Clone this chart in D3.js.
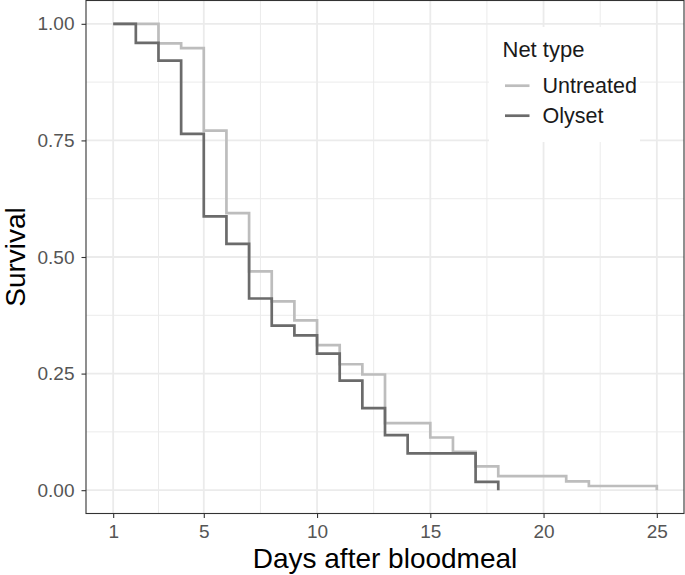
<!DOCTYPE html>
<html>
<head>
<meta charset="utf-8">
<script src="https://cdn.jsdelivr.net/npm/d3@7"></script>
<style>
  html, body { margin: 0; padding: 0; background: #fff; }
  svg { display: block; font-family: "Liberation Sans", Arial, Helvetica, sans-serif; }
</style>
</head>
<body>
<div id="chart"></div>
<script>
// ---------- Data ----------
const seriesNames = ['Untreated', 'Olyset'];
const untreatedDays = [1, 3, 4, 5, 6, 7, 8, 9, 10, 11, 12, 13, 15, 16, 17, 18, 21, 22, 25];
const untreatedSurv = [1.0, 0.958, 0.948, 0.771, 0.594, 0.469, 0.405, 0.364, 0.311, 0.270, 0.248, 0.144, 0.113, 0.082, 0.051, 0.030, 0.019, 0.009, 0];
const olysetDays = [1, 2, 3, 4, 5, 6, 7, 8, 9, 10, 11, 12, 13, 14, 17, 18];
const olysetSurv = [1.0, 0.959, 0.921, 0.764, 0.587, 0.528, 0.411, 0.353, 0.332, 0.293, 0.235, 0.176, 0.118, 0.079, 0.018, 0];

const xTicks = [1, 5, 10, 15, 20, 25];
const xMinor = [3, 7.5, 12.5, 17.5, 22.5];
const yTicks = [0, 0.25, 0.5, 0.75, 1];
const yMinor = [0.125, 0.375, 0.625, 0.875];

const colors = { Untreated: '#bdbdbd', Olyset: '#6b6b6b' };

// ---------- Layout ----------
const W = 685, H = 575;
const P = { l: 86, r: 684, t: 0.5, b: 513.5 };

const svg = d3.select('#chart').append('svg').attr('width', W).attr('height', H);

const x = d3.scaleLinear().domain([-0.2, 26.2]).range([P.l, P.r]);
const y = d3.scaleLinear().domain([-0.05, 1.05]).range([P.b, P.t]);

// grid (minor then major)
const grid = svg.append('g');
grid.selectAll('line.xmin').data(xMinor).join('line')
  .attr('x1', d => x(d)).attr('x2', d => x(d)).attr('y1', P.t).attr('y2', P.b)
  .attr('stroke', '#ebebeb').attr('stroke-width', 1);
grid.selectAll('line.ymin').data(yMinor).join('line')
  .attr('y1', d => y(d)).attr('y2', d => y(d)).attr('x1', P.l).attr('x2', P.r)
  .attr('stroke', '#ebebeb').attr('stroke-width', 1);
grid.selectAll('line.xmaj').data(xTicks).join('line')
  .attr('x1', d => x(d)).attr('x2', d => x(d)).attr('y1', P.t).attr('y2', P.b)
  .attr('stroke', '#ebebeb').attr('stroke-width', 1.8);
grid.selectAll('line.ymaj').data(yTicks).join('line')
  .attr('y1', d => y(d)).attr('y2', d => y(d)).attr('x1', P.l).attr('x2', P.r)
  .attr('stroke', '#ebebeb').attr('stroke-width', 1.8);

// ---------- Step curves ----------
const series = [
  { name: 'Untreated', pts: untreatedDays.map((d, i) => [d, untreatedSurv[i]]) },
  { name: 'Olyset', pts: olysetDays.map((d, i) => [d, olysetSurv[i]]) }
];
const line = d3.line().x(d => x(d[0])).y(d => y(d[1])).curve(d3.curveStepAfter);

svg.append('g').selectAll('path').data(series).join('path')
  .attr('d', d => line(d.pts))
  .attr('fill', 'none')
  .attr('stroke', d => colors[d.name])
  .attr('stroke-width', 2.7);

// ---------- Legend (inside panel, white background) ----------
const lg = svg.append('g');
lg.append('rect').attr('x', 489).attr('y', 27).attr('width', 151).attr('height', 115).attr('fill', '#fff');
lg.append('text').attr('x', 502.5).attr('y', 57).attr('font-size', 22).attr('fill', '#1a1a1a').text('Net type');
seriesNames.forEach((n, i) => {
  const cy = 85.7 + i * 30;
  lg.append('line').attr('x1', 505).attr('x2', 529.5).attr('y1', cy).attr('y2', cy)
    .attr('stroke', colors[n]).attr('stroke-width', 2.7);
  lg.append('text').attr('x', 542.5).attr('y', cy + 7.6).attr('font-size', 21.5).attr('fill', '#1a1a1a').text(n);
});

// ---------- Panel border ----------
svg.append('rect').attr('x', P.l).attr('y', P.t).attr('width', P.r - P.l).attr('height', P.b - P.t)
  .attr('fill', 'none').attr('stroke', '#333').attr('stroke-width', 1.1);

// ---------- Axes ----------
const xAxis = svg.append('g').attr('transform', `translate(0,${P.b})`)
  .call(d3.axisBottom(x).tickValues(xTicks).tickSize(4.5).tickPadding(7).tickFormat(d3.format('d')));
const yAxis = svg.append('g').attr('transform', `translate(${P.l},0)`)
  .call(d3.axisLeft(y).tickValues(yTicks).tickSize(4.5).tickPadding(7).tickFormat(d3.format('.2f')));
[xAxis, yAxis].forEach(a => {
  a.select('.domain').remove();
  a.selectAll('.tick line').attr('stroke', '#333').attr('stroke-width', 1.1);
  a.selectAll('.tick text').attr('fill', '#555').attr('font-size', 19)
    .attr('font-family', '"Liberation Sans", Arial, sans-serif');
});

// axis titles
svg.append('text').attr('x', (P.l + P.r) / 2).attr('y', 568).attr('text-anchor', 'middle')
  .attr('font-size', 28).attr('fill', '#000').text('Days after bloodmeal');
svg.append('text').attr('transform', `translate(24.5,${(P.t + P.b) / 2}) rotate(-90)`).attr('text-anchor', 'middle')
  .attr('font-size', 28).attr('fill', '#000').text('Survival');
</script>
</body>
</html>
